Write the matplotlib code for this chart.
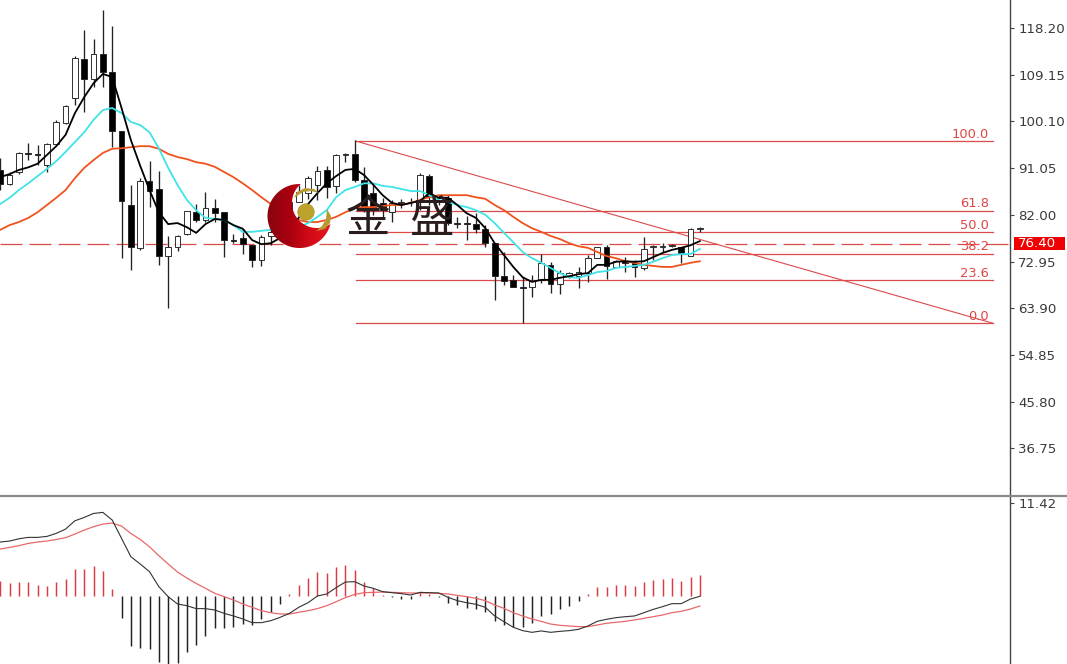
import numpy as np
from matplotlib import pyplot as plt
from matplotlib.colors import LinearSegmentedColormap
from matplotlib.lines import Line2D
from matplotlib.patches import Circle, Polygon, Rectangle

W, H = 1067, 664
BAR_STEP = 9.33  # pixels between two candles
MAIN_RIGHT = 1010
MAIN_BOTTOM = 495

# candles, in price units
opens = [90.7, 88.0, 90.3, 93.9, 93.8, 91.7, 95.7, 99.8, 104.6, 112.2, 108.3, 113.2, 109.7, 98.2, 83.9, 75.6, 88.5, 87.0, 74.0,
         75.8, 78.3, 82.5, 81.0, 83.3, 82.5, 77.2, 77.5, 76.1, 73.2, 77.9, 78.7, 81.6, 84.5, 86.2, 87.8, 90.7, 87.6, 93.6,
         93.8, 88.7, 86.2, 84.3, 82.5, 84.2, 84.5, 84.5, 89.5, 84.5, 85.3, 80.4, 80.4, 80.2, 79.3, 76.5, 70.1, 69.4, 68.1,
         68.0, 69.4, 72.3, 68.6, 70.1, 70.1, 70.7, 73.6, 75.8, 71.9, 73.0, 72.7, 71.7, 75.7, 75.7, 75.9, 75.8, 74.0, 79.2]
highs = [93.0, 90.3, 94.2, 95.9, 95.5, 95.9, 100.4, 103.3, 112.8, 117.8, 116.1, 121.7, 118.6, 98.2, 87.8, 89.1, 92.4, 90.5, 77.9,
         78.1, 82.7, 84.1, 86.4, 85.1, 82.5, 78.3, 79.3, 76.1, 78.1, 80.6, 84.0, 85.0, 87.8, 89.5, 91.5, 91.5, 93.8, 94.0,
         96.5, 91.3, 87.8, 85.3, 84.9, 85.1, 85.3, 90.1, 89.9, 85.8, 85.8, 81.6, 81.8, 82.3, 80.0, 76.5, 74.8, 70.3, 69.9,
         70.3, 74.4, 72.9, 71.3, 70.9, 71.9, 74.2, 75.8, 76.1, 73.2, 73.8, 73.2, 77.7, 76.1, 76.5, 76.3, 75.8, 79.4, 79.6]
lows = [86.8, 87.8, 89.9, 92.6, 91.7, 90.3, 95.3, 99.6, 103.3, 101.9, 106.8, 106.8, 95.1, 73.6, 71.3, 75.2, 83.5, 72.3, 63.9,
        75.0, 78.1, 80.6, 80.6, 80.6, 73.8, 76.5, 74.4, 71.9, 72.1, 76.1, 78.0, 81.2, 84.5, 85.0, 84.9, 85.3, 86.2, 92.2,
        88.3, 82.5, 82.0, 81.4, 80.6, 83.3, 83.7, 82.9, 83.9, 83.9, 80.0, 79.4, 77.1, 78.5, 75.8, 65.5, 68.4, 68.0, 61.0,
        66.1, 68.8, 66.8, 66.6, 69.8, 67.8, 69.0, 73.6, 69.6, 71.9, 70.9, 69.9, 71.3, 73.2, 74.8, 75.8, 72.7, 74.0, 78.7]
closes = [88.0, 89.7, 94.0, 93.7, 93.5, 95.7, 100.0, 103.1, 112.4, 108.3, 113.2, 109.7, 98.2, 84.7, 75.8, 88.5, 86.6, 74.0, 75.8,
          77.9, 82.7, 81.0, 83.3, 82.3, 77.1, 77.0, 76.3, 73.2, 77.7, 78.7, 81.6, 84.5, 86.4, 89.1, 90.5, 87.4, 93.6, 93.8,
          88.7, 82.9, 83.3, 82.9, 84.3, 84.4, 84.4, 89.7, 85.4, 85.3, 80.4, 80.3, 80.3, 79.3, 76.5, 70.1, 69.2, 68.0, 67.9,
          69.2, 72.7, 68.6, 70.7, 70.7, 70.9, 73.6, 75.8, 72.1, 73.0, 72.7, 71.9, 75.4, 75.9, 75.9, 76.1, 74.4, 79.3, 79.5]

# moving averages
ma_fast = [89.3, 89.9, 90.7, 91.2, 91.9, 93.6, 95.3, 97.5, 101.7, 104.8, 107.5, 109.3, 108.7, 102.7, 96.5, 91.5, 86.8, 82.5, 80.2,
           80.4, 79.6, 78.5, 80.2, 81.2, 81.0, 80.0, 79.3, 77.1, 76.3, 76.5, 77.5, 79.6, 81.4, 84.1, 86.2, 88.1, 89.5, 90.7,
           90.9, 89.7, 87.8, 85.8, 84.3, 83.9, 84.3, 84.7, 86.2, 85.3, 85.3, 83.9, 82.3, 81.4, 79.4, 76.5, 74.2, 71.9, 69.9,
           69.0, 69.4, 69.4, 69.8, 70.1, 70.5, 70.7, 72.3, 72.3, 72.9, 73.0, 72.9, 73.0, 73.8, 74.6, 75.2, 75.6, 76.1, 76.9]
ma_mid = [84.1, 85.3, 86.8, 88.1, 89.5, 90.9, 92.4, 94.2, 96.1, 98.0, 100.4, 102.3, 102.7, 101.7, 100.0, 99.4, 98.0, 94.9, 91.1,
          87.8, 84.9, 82.9, 81.4, 81.2, 81.0, 80.0, 78.7, 78.7, 78.9, 79.1, 79.1, 79.3, 79.6, 80.4, 81.6, 82.9, 85.4, 86.8,
          87.4, 88.1, 88.1, 87.6, 87.4, 87.0, 86.6, 86.6, 85.8, 84.9, 84.5, 83.9, 83.5, 82.9, 82.0, 80.4, 78.5, 76.7, 74.8,
          73.6, 72.7, 71.7, 70.7, 69.9, 69.8, 70.3, 70.9, 71.1, 71.7, 71.9, 72.1, 72.3, 72.9, 73.6, 74.2, 74.4, 74.4, 75.4]
ma_slow = [79.1, 80.0, 80.6, 81.4, 82.5, 83.9, 85.3, 86.8, 89.1, 91.1, 92.6, 94.0, 94.8, 94.9, 95.1, 95.3, 95.3, 94.8, 93.8,
           93.2, 92.8, 92.2, 91.9, 91.3, 90.3, 89.3, 88.1, 86.8, 85.4, 84.1, 82.9, 81.8, 81.0, 80.6, 80.6, 81.0, 81.6, 82.5,
           83.3, 83.5, 83.5, 83.7, 83.9, 83.9, 84.3, 84.9, 85.4, 85.8, 85.8, 85.8, 85.8, 85.4, 85.1, 83.9, 82.9, 81.6, 80.4,
           79.4, 78.7, 77.9, 77.3, 76.5, 75.9, 75.6, 74.8, 74.0, 73.6, 73.0, 72.7, 72.3, 72.1, 71.9, 71.9, 72.3, 72.7, 73.0]

# MACD panel
macd_hist = [1.88, 1.55, 1.76, 1.76, 1.35, 1.27, 1.68, 2.13, 3.35, 3.27, 3.64, 3.03, 0.82, -2.66, -6.09, -6.34, -6.46, -8.06, -8.34,
             -8.18, -6.91, -6.01, -4.87, -3.89, -3.89, -3.76, -3.48, -3.56, -2.78, -1.96, -0.94, 0.20, 1.35, 2.17, 2.94, 2.86, 3.56, 3.80,
             3.15, 1.72, 0.94, 0.08, -0.16, -0.33, -0.41, 0.53, 0.20, -0.08, -0.82, -1.15, -1.43, -1.64, -1.96, -3.03, -3.56, -3.84, -3.84,
             -3.35, -2.45, -2.21, -1.60, -1.19, -0.61, 0.20, 1.06, 1.15, 1.35, 1.35, 1.23, 1.68, 1.96, 2.13, 2.21, 1.88, 2.29, 2.58]
macd_line = [6.63, 6.75, 7.03, 7.20, 7.20, 7.32, 7.69, 8.22, 9.24, 9.65, 10.14, 10.27, 9.33, 7.08, 4.83, 3.93, 2.99, 1.15, -0.08,
             -0.98, -1.19, -1.55, -1.55, -1.72, -2.13, -2.45, -2.82, -3.27, -3.27, -3.03, -2.62, -2.13, -1.39, -0.82, 0.0, 0.25, 1.02, 1.72,
             1.76, 1.23, 0.94, 0.53, 0.41, 0.29, 0.12, 0.45, 0.41, 0.37, -0.16, -0.57, -0.82, -1.02, -1.39, -2.45, -3.15, -3.84, -4.25,
             -4.46, -4.29, -4.46, -4.34, -4.25, -4.09, -3.68, -3.11, -2.86, -2.66, -2.54, -2.45, -2.05, -1.64, -1.31, -0.94, -0.94, -0.37, -0.04]
macd_signal = [5.77, 5.97, 6.18, 6.46, 6.63, 6.75, 6.95, 7.16, 7.61, 8.10, 8.51, 8.83, 8.96, 8.59, 7.69, 6.95, 6.05, 4.95, 3.93,
               2.94, 2.21, 1.55, 0.94, 0.33, -0.08, -0.49, -0.98, -1.39, -1.80, -2.05, -2.21, -2.21, -2.00, -1.80, -1.55, -1.19, -0.70, -0.20,
               0.20, 0.41, 0.45, 0.49, 0.45, 0.41, 0.37, 0.37, 0.37, 0.33, 0.25, 0.08, -0.08, -0.29, -0.57, -1.10, -1.51, -2.05, -2.45,
               -2.82, -3.11, -3.44, -3.60, -3.68, -3.76, -3.76, -3.56, -3.35, -3.23, -3.11, -2.94, -2.74, -2.54, -2.33, -2.05, -1.88, -1.60, -1.23]

# axis labels
price_ticks = [118.20, 109.15, 100.10, 91.05, 82.00, 72.95, 63.90, 54.85, 45.80, 36.75]
macd_ticks = [11.42]
last_price = 76.40

# fibonacci retracement tool
fib_levels = [100.0, 61.8, 50.0, 38.2, 23.6, 0.0]
fib_top = 96.3
fib_bottom = 61.0
fib_start = 38.1
fib_end = 106.4

RED = '#dc4a4a'
TEXT = '#3a3a3a'


def style_panel(ax, ticks):
    for side in ['top', 'left', 'bottom']:
        ax.spines[side].set_visible(False)
    ax.spines['right'].set_linewidth(1.0)
    ax.spines['right'].set_color('#444444')
    ax.set_xticks([])
    ax.yaxis.tick_right()
    ax.set_yticks(ticks)
    ax.set_yticklabels(['%.2f' % t for t in ticks])
    ax.tick_params(axis='y', length=3, width=0.8, color='#444444', pad=3, labelsize=9.6, labelcolor=TEXT)


def draw_candles(ax):
    x = np.arange(len(opens))
    o = np.array(opens)
    c = np.array(closes)
    up = c >= o
    ax.vlines(x, lows, highs, color='#222222', lw=0.95, zorder=3)
    ax.bar(x, np.abs(c - o), bottom=np.minimum(o, c), width=0.62,
           color=np.where(up, 'white', 'black'), edgecolor='#222222', lw=0.65, zorder=4)


def draw_fib(ax):
    for level in fib_levels:
        price = fib_bottom + (fib_top - fib_bottom) * level / 100
        ax.plot([fib_start, fib_end], [price, price], color=RED, lw=0.9, zorder=2)
        ax.annotate('%.1f' % level, xy=(fib_end, price), xytext=(-2.5, 0.3), textcoords='offset points',
                    ha='right', va='bottom', fontsize=9.4, color='#e04545', zorder=2)
    ax.plot([fib_start, fib_end], [fib_top, fib_bottom], color=RED, lw=0.8, zorder=2)


def crescent_outline(outer_c, outer_r, inner_c, inner_r):
    """Outline of the outer circle with the inner circle cut away."""
    outer_c = np.array(outer_c)
    inner_c = np.array(inner_c)
    a = np.arctan2(*(inner_c - outer_c)[::-1]) + np.pi
    s = np.linspace(-np.pi, np.pi, 240)
    unit = np.column_stack([np.cos(a + s), np.sin(a + s)])
    rim = outer_c + outer_r * unit
    rim = rim[np.hypot(*(rim - inner_c).T) >= inner_r]
    bite = inner_c + inner_r * unit
    bite = bite[np.hypot(*(bite - outer_c).T) <= outer_r]
    return np.vstack([rim, bite[::-1]])


def draw_logo(fig):
    # decoration, laid out in pixels over the chart
    ax = fig.add_axes([0, 0, 1, 1])
    ax.set_xlim(0, W)
    ax.set_ylim(H, 0)
    ax.axis('off')
    ax.patch.set_visible(False)

    crescent = Polygon(crescent_outline((299.5, 216), 32, (317, 203), 25), fc='none', ec='none')
    ax.add_patch(crescent)
    cmap = LinearSegmentedColormap.from_list('logo', ['#8a0410', '#a8000f', '#d40a18', '#e8141e'])
    grad = ax.imshow(np.linspace(0, 1, 64).reshape(1, -1), extent=(267, 332, 249, 184), cmap=cmap, aspect='auto', zorder=5)
    grad.set_clip_path(crescent)

    ax.add_patch(Circle((306, 212), 8.2, fc='#bda32e', ec='#a98f22', lw=0.5, zorder=6))
    ax.add_patch(Polygon([(294, 198), (297, 192), (305, 188), (314, 189), (319, 193), (311, 191), (303, 192)],
                         fc='#b59a34', ec='none', zorder=6))
    ax.add_patch(Polygon([(316, 231), (322, 226), (326, 219), (327, 209), (331, 216), (330, 223), (325, 229)],
                         fc='#b59a34', ec='none', zorder=6))

    cjk = ['Noto Sans CJK SC', 'DejaVu Sans']
    ax.text(368, 219, '金', family=cjk, fontsize=32, color='#2b1d1d', ha='center', va='center', zorder=6)
    ax.text(431, 219, '盛', family=cjk, fontsize=32, color='#2b1d1d', ha='center', va='center', zorder=6)
    ax.set_xlim(0, W)
    ax.set_ylim(H, 0)


def main():
    fig = plt.figure(figsize=(W / 100, H / 100), dpi=100)

    ax = fig.add_axes([0, 1 - MAIN_BOTTOM / H, MAIN_RIGHT / W, MAIN_BOTTOM / H])
    x_limits = (-0.03, MAIN_RIGHT / BAR_STEP)
    x = np.arange(len(opens))

    ax.axhline(last_price, color=RED, lw=0.9, dashes=(17.6, 5.6), zorder=2)
    draw_fib(ax)
    draw_candles(ax)
    ax.plot(x, ma_slow, color='#f0521e', lw=1.3, zorder=5)
    ax.plot(x, ma_mid, color='#3fe3e8', lw=1.3, zorder=5)
    ax.plot(x, ma_fast, color='black', lw=1.3, zorder=6)
    ax.set_xlim(x_limits)
    ax.set_ylim(27.7, 123.63)
    style_panel(ax, price_ticks)

    # last price tag on the axis
    ax.add_patch(Rectangle((1014 / MAIN_RIGHT, last_price - 1.3), 51 / MAIN_RIGHT, 2.55, transform=ax.get_yaxis_transform(),
                           fc='#f00000', ec='none', clip_on=False, zorder=7))
    ax.annotate('%.2f' % last_price, xy=(1, last_price), xycoords=ax.get_yaxis_transform(),
                xytext=(6, 0), textcoords='offset points', ha='left', va='center', fontsize=9.6, color='white',
                annotation_clip=False, zorder=8)

    sub = fig.add_axes([0, 0, MAIN_RIGHT / W, (H - 497) / H])
    hist = np.array(macd_hist)
    sub.vlines(x, 0, hist, colors=np.where(hist >= 0, '#dc3a42', '#222222'), lw=1.05, zorder=2)
    sub.plot(x, macd_signal, color='#e8686a', lw=0.9, zorder=3)
    sub.plot(x, macd_line, color='#333333', lw=0.8, zorder=4)
    sub.set_xlim(x_limits)
    sub.set_ylim(-8.35, 12.16)
    style_panel(sub, macd_ticks)

    # panel separator runs the full width of the window
    fig.add_artist(Line2D([0, 1], [1 - 495.5 / H] * 2, color='#8a8a8a', lw=1.6))

    draw_logo(fig)
    fig.savefig('out.png', dpi=100)


main()
